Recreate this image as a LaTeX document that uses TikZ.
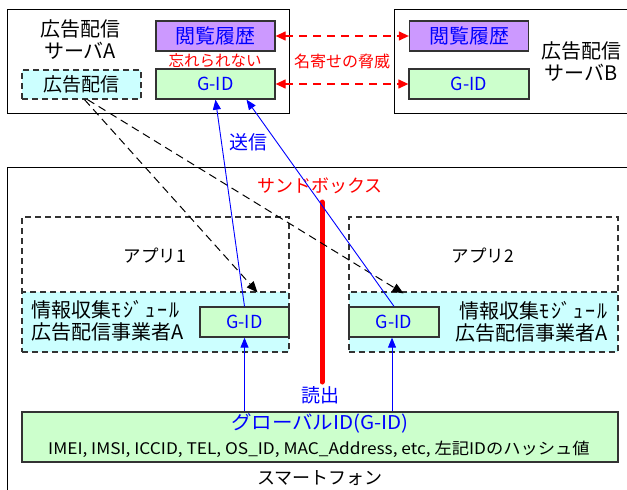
\documentclass[tikz,border=0pt]{standalone}
\usepackage{fontspec}
\setmainfont{Noto Sans CJK JP}
\usetikzlibrary{arrows.meta,calc}
\definecolor{purp}{HTML}{CC99FF}
\definecolor{grn}{HTML}{CCFFCC}
\definecolor{cyn}{HTML}{CCFFFF}
\definecolor{dgray}{HTML}{333333}
\definecolor{tblue}{HTML}{0000FF}
\newcommand{\fs}[1]{\fontsize{#1}{#1}\selectfont}
\newcommand{\modtxt}{情報収集ﾓ\kern2pt ｼﾞ\kern2pt ｭ\kern2pt ｰ\kern2pt ﾙ}
\tikzset{
  outer/.style={draw=black, line width=1pt, inner sep=0pt},
  hist/.style={draw=dgray, line width=1.3pt, fill=purp, inner sep=0pt, minimum width=119pt, minimum height=30pt, text=tblue, font=\fs{20}},
  gid/.style={draw=dgray, line width=1.3pt, fill=grn, inner sep=0pt, text=tblue, font=\fs{18}},
  dbox/.style={draw=dgray, line width=1.2pt, dash pattern=on 6pt off 4pt, inner sep=0pt},
  lbl/.style={inner sep=0pt, font=\fs{18}, align=center},
  redtxt/.style={inner sep=0pt, text=red, font=\fs{15.5}},
  bluearrow/.style={draw=tblue, line width=0.9pt, -{Triangle[length=10pt,width=8pt]}},
  reddash/.style={draw=red, line width=1.3pt, dash pattern=on 8pt off 6pt, {Triangle[length=10pt,width=9pt]}-{Triangle[length=10pt,width=9pt]}},
  blackdash/.style={draw=black, line width=1pt, dash pattern=on 8pt off 5pt, -{Triangle[length=11pt,width=9pt]}},
}
\begin{document}
\begin{tikzpicture}[x=1pt,y=-1pt]
\useasboundingbox (0,0) rectangle (627,490);
\clip (0,0) rectangle (627,490);
\fill[white] (0,0) rectangle (627,490);

% servers
\node[outer, minimum width=282pt, minimum height=104pt] (srvA) at (148,61) {};
\node[outer, minimum width=250pt, minimum height=104pt] (srvB) at (519,61) {};
\node[hist] (histA) at (215.5,36) {閲覧履歴};
\node[gid, minimum width=119pt, minimum height=30pt] (gidA) at (215.5,84) {G-ID};
\node[hist] (histB) at (469,36) {閲覧履歴};
\node[gid, minimum width=120pt, minimum height=30pt] (gidB) at (469,84) {G-ID};
\node[dbox, fill=cyn, minimum width=119pt, minimum height=29pt, font=\fs{19}] (ad) at (81.5,84.5) {広告配信};
\node[lbl, font=\fs{20}] (lblA) at (80,40) {広告配信\\[2pt]サーバA};
\node[lbl, font=\fs{20}] (lblB) at (581,62) {広告配信\\[2pt]サーバB};
\node[redtxt] (forget) at (215,60) {忘れられない};
\node[redtxt, font=\fs{16}] (nayose) at (342,61) {名寄せの脅威};
\draw[reddash] (histA.east) -- (histB.west);
\draw[reddash] (gidA.east) -- (gidB.west);

% smartphone
\node[outer, minimum width=630pt, minimum height=340pt] (phone) at (322,337) {};
\node[lbl] (sp) at (320,478) {スマートフォン};

% apps
\node[dbox, fill=cyn, minimum width=267pt, minimum height=60pt] (mod1) at (155.5,322) {};
\node[dbox, minimum width=267pt, minimum height=135pt] (app1) at (155.5,284.5) {};
\node[dbox, fill=cyn, minimum width=269pt, minimum height=60pt] (mod2) at (483.5,322) {};
\node[dbox, minimum width=269pt, minimum height=135pt] (app2) at (483.5,284.5) {};
\node[lbl, font=\fs{17.5}] (app1l) at (155,256) {アプリ1};
\node[lbl, font=\fs{17.5}] (app2l) at (483,256) {アプリ2};
\node[gid, minimum width=89pt, minimum height=30pt] (gid1) at (244.5,322) {G-ID};
\node[gid, minimum width=90pt, minimum height=30pt] (gid2) at (394,322) {G-ID};
\node[inner sep=0pt, anchor=west, align=left, font=\fs{20}] (mt1) at (31,321) {\modtxt\\[2pt]広告配信事業者A};
\node[inner sep=0pt, anchor=east, align=right, font=\fs{20}] (mt2) at (608,322) {\modtxt\\[2pt]広告配信事業者A};

% global ID
\node[draw=dgray, line width=1.3pt, fill=grn, inner sep=0pt, minimum width=596pt, minimum height=50pt] (glob) at (320,437) {};
\node[inner sep=0pt, text=tblue, font=\fs{19}] (globt) at (320,423) {\scalebox{1.08}[1]{グローバルID(G-ID)}};
\node[inner sep=0pt, font=\fs{16}] (globs) at (319,449) {\scalebox{1.08}[1]{IMEI, IMSI, ICCID, TEL, OS\_ID, MAC\_Address, etc, 左記IDのハッシュ値}};

% sandbox
\draw[red, line width=5pt, line cap=round] (322,202) -- (322,382);
\node[redtxt, font=\fs{18}] (sbx) at (320,186) {サンドボックス};
\node[inner sep=0pt, text=tblue, font=\fs{19}] (read) at (320,395) {読出};
\node[inner sep=0pt, text=tblue, font=\fs{19}] (send) at (248,142) {送信};

% arrows
\draw[blackdash] ([xshift=3pt]ad.south) -- ([xshift=102pt,yshift=-1pt]mod1.north);
\draw[blackdash] ([xshift=6pt]ad.south) -- ([xshift=-80pt,yshift=-2pt]mod2.north);
\draw[bluearrow] (gid1.north) -- (gidA.south);
\draw[bluearrow] (gid2.north) -- ([xshift=31pt]gidA.south);
\draw[bluearrow] (glob.north -| gid1.south) -- (gid1.south);
\draw[bluearrow] ([xshift=-2pt]glob.north -| gid2.south) -- ([xshift=-2pt]gid2.south);
\end{tikzpicture}
\end{document}
